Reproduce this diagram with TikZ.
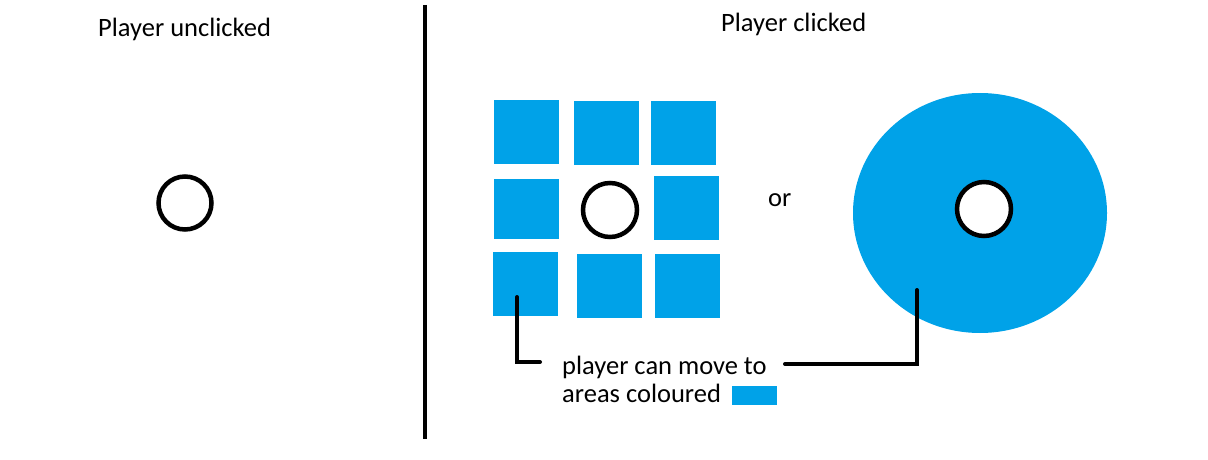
\documentclass[tikz,border=0pt]{standalone}
\usepackage{fontspec}
\setmainfont{Carlito}
\definecolor{paintblue}{RGB}{0,162,232}
\begin{document}
\begin{tikzpicture}[x=1pt,y=-1pt,
  sq/.style={fill=paintblue,draw=none,inner sep=0pt,minimum width=65pt,minimum height=64pt},
  token/.style={circle,draw=black,line width=4.5pt,fill=white,inner sep=0pt,minimum size=54pt},
  lbl/.style={inner sep=0pt,anchor=base west,font=\fontsize{26.5}{31}\selectfont},
  conn/.style={line width=4pt,line cap=round,line join=miter}]
\useasboundingbox (0,0) rectangle (1208,460);
% titles
\node[lbl] (t1) at (98,37) {Player unclicked};
\node[lbl] (t2) at (721,32) {Player clicked};
% divider
\coordinate (dtop) at (424.5,5);
\coordinate (dbot) at (424.5,439);
\draw[line width=4pt] (dtop) -- (dbot);
% left token
\node[token,minimum size=53pt] (p0) at (185,203) {};
% grid of squares
\node[sq] (s1) at (526.5,132) {};
\node[sq] (s2) at (606.5,133) {};
\node[sq] (s3) at (683.5,133) {};
\node[sq,minimum height=60pt] (s4) at (526.5,209) {};
\node[sq] (s6) at (686.5,208) {};
\node[sq] (s7) at (525.5,284) {};
\node[sq] (s8) at (609.5,286) {};
\node[sq] (s9) at (687.5,286) {};
\node[token] (p1) at (610,210) {};
% or
\node[lbl] (or) at (768,206) {or};
% big disc
\fill[paintblue] (980,213) ellipse [x radius=127pt, y radius=120pt];
\node[token] (p2) at (984,209) {};
% label
\node[lbl] (l1) at (562,374) {player can move to};
\node[lbl] (l2) at (562,402) {areas coloured};
\node[sq,minimum width=45pt,minimum height=19pt] (key) at (754.5,395.5) {};
% connectors
\coordinate (a1) at (517,297);
\coordinate (a2) at (540,362);
\coordinate (b1) at (917,290);
\coordinate (b2) at (785,364);
\draw[conn] (a1) |- (a2);
\draw[conn] (b1) |- (b2);
\end{tikzpicture}
\end{document}
